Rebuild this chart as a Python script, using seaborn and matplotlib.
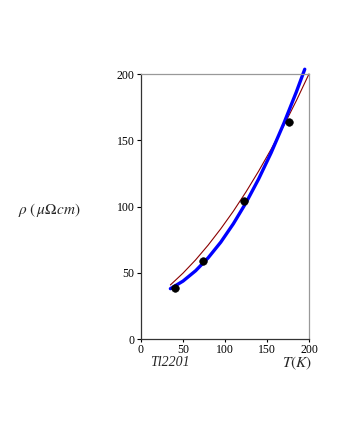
import matplotlib
matplotlib.use("Agg")
import matplotlib.pyplot as plt
import seaborn as sns
import pandas as pd

# Measured resistivity points (Tl2201)
t_meas = [40.5, 74.2, 122.6, 175.8]
rho_meas = [38.3, 59.1, 104.4, 164.0]

# Thin red fit curve
t_red = [35, 50, 65, 80, 95, 110, 125, 140, 155, 170, 185, 200]
rho_red = [40.8, 49.7, 59.7, 70.9, 83.2, 96.5, 111.0, 126.6, 143.3, 161.0, 179.9, 200.0]

# Thick blue fit curve
t_blue = [35, 50, 65, 80, 95, 110, 125, 140, 155, 170, 185, 195]
rho_blue = [38.0, 43.7, 51.5, 61.3, 73.1, 87.0, 102.8, 120.7, 140.6, 162.6, 186.5, 203.6]

ticks = [0, 50, 100, 150, 200]

sns.set_theme(style="white")
plt.rcParams['font.family'] = ['Liberation Serif', 'DejaVu Serif']
plt.rcParams['mathtext.fontset'] = 'stix'

df_red = pd.DataFrame({'T': t_red, 'rho': rho_red})
df_blue = pd.DataFrame({'T': t_blue, 'rho': rho_blue})
df_meas = pd.DataFrame({'T': t_meas, 'rho': rho_meas})

fig = plt.figure(figsize=(3.4, 4.4), dpi=100)
ax = fig.add_axes([0.4147, 0.2295, 0.494, 0.6023])

sns.lineplot(data=df_red, x='T', y='rho', color='#8b0000', linewidth=0.8,
             estimator=None, ax=ax)
sns.lineplot(data=df_blue, x='T', y='rho', color='#0000ff', linewidth=2.4,
             estimator=None, ax=ax)
sns.scatterplot(data=df_meas, x='T', y='rho', color='black', s=30,
                edgecolor='black', zorder=5, ax=ax)
for ln in ax.lines:
    ln.set_clip_on(False)

ax.set_xlim(0, 200)
ax.set_ylim(0, 200)
ax.set_xticks(ticks)
ax.set_yticks(ticks)
ax.tick_params(axis='both', which='major', labelsize=8.5, length=3, width=0.8,
               direction='out', colors='black', pad=1.5)
ax.tick_params(axis='x', bottom=True, length=2)
ax.tick_params(axis='y', left=True)
ax.set_xlabel('')
ax.set_ylabel('')

for side in ['left', 'bottom']:
    ax.spines[side].set_color('#333333')
    ax.spines[side].set_linewidth(0.9)
for side in ['top', 'right']:
    ax.spines[side].set_color('#999999')
    ax.spines[side].set_linewidth(0.9)

# Labels placed in figure pixel coordinates like the original
fig.text(150 / 340, 1 - 363 / 440, 'Tl2201', fontsize=10, style='italic',
         ha='left', va='center')
fig.text(312 / 340, 1 - 363 / 440, r'$T(K)$', fontsize=11, ha='right', va='center')
fig.text(18 / 340, 1 - 210 / 440, r'$\rho\ (\,\mu\Omega cm)$', fontsize=11,
         ha='left', va='center')

fig.savefig('out.png', dpi=100)
